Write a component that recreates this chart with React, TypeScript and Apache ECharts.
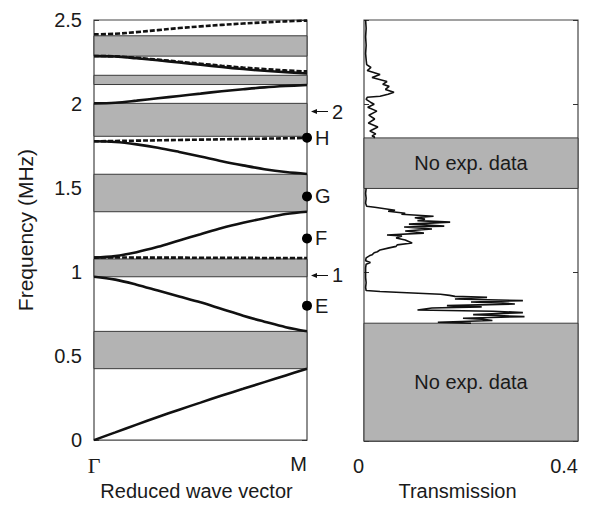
import React, { useEffect, useRef } from "react";
import * as echarts from "echarts";

// ---- Band structure (left panel) ----
const kPts = [0, 0.1, 0.2, 0.3, 0.4, 0.5, 0.6, 0.7, 0.8, 0.9, 1];
const band1 = [0, 0.046, 0.092, 0.137, 0.181, 0.223, 0.265, 0.305, 0.345, 0.385, 0.425];
const band2 = [0.972, 0.955, 0.925, 0.89, 0.855, 0.82, 0.78, 0.74, 0.705, 0.672, 0.648];
const band3 = [1.086, 1.095, 1.118, 1.15, 1.188, 1.225, 1.262, 1.293, 1.32, 1.345, 1.359];
const band4 = [1.778, 1.774, 1.76, 1.74, 1.715, 1.688, 1.66, 1.635, 1.612, 1.595, 1.584];
const band5 = [2.004, 2.008, 2.02, 2.034, 2.048, 2.062, 2.076, 2.088, 2.099, 2.107, 2.113];
const band6 = [2.285, 2.283, 2.272, 2.26, 2.247, 2.234, 2.22, 2.208, 2.198, 2.19, 2.182];
const dashA = [1.087, 1.087, 1.086, 1.086, 1.086, 1.085, 1.085, 1.085, 1.084, 1.084, 1.084];
const dashB = [1.778, 1.78, 1.782, 1.784, 1.786, 1.788, 1.79, 1.792, 1.794, 1.796, 1.798];
const dashC = [2.286, 2.284, 2.275, 2.264, 2.252, 2.24, 2.228, 2.217, 2.208, 2.2, 2.194];
const dashD = [2.415, 2.418, 2.428, 2.44, 2.452, 2.462, 2.471, 2.479, 2.486, 2.492, 2.496];
const solidBands = [band1, band2, band3, band4, band5, band6];
const dashedBands = [dashA, dashB, dashC, dashD];

// band gaps [low, high] (MHz)
const gapLow = [0.425, 0.972, 1.359, 1.808, 2.116, 2.285];
const gapHigh = [0.647, 1.078, 1.582, 2.004, 2.171, 2.406];

// marked points on M edge
const markerLabels = ["H", "G", "F", "E"];
const markerFreqs = [1.8, 1.45, 1.2, 0.8];
// arrow annotations
const arrowLabels = ["2", "1"];
const arrowFreqs = [1.955, 0.98];

// ---- Transmission (right panel) ----
const noDataLow = [0, 1.5];
const noDataHigh = [0.7, 1.8];

const transFreqUpper = [2.5, 2.45, 2.4, 2.35, 2.3, 2.265, 2.235, 2.218, 2.2, 2.176, 2.159, 2.135, 2.118, 2.106, 2.088, 2.071, 2.059, 2.047, 2.041, 2.029, 2.012, 2.0, 1.982, 1.959, 1.935, 1.912, 1.888, 1.865, 1.841, 1.824, 1.812, 1.806, 1.8];
const transValUpper = [0.003, 0.004, 0.003, 0.004, 0.003, 0.004, 0.005, 0.013, 0.006, 0.03, 0.015, 0.043, 0.035, 0.047, 0.04, 0.056, 0.045, 0.03, 0.006, 0.004, 0.012, 0.019, 0.007, 0.024, 0.009, 0.02, 0.008, 0.026, 0.011, 0.022, 0.015, 0.02, 0.018];

const transFreqLower = [1.5, 1.47, 1.441, 1.412, 1.394, 1.388, 1.371, 1.365, 1.353, 1.347, 1.335, 1.326, 1.318, 1.309, 1.3, 1.288, 1.276, 1.271, 1.259, 1.247, 1.235, 1.224, 1.218, 1.206, 1.194, 1.176, 1.165, 1.156, 1.147, 1.135, 1.124, 1.118, 1.106, 1.1, 1.088, 1.071, 1.06, 1.05, 1.029, 1.0, 0.971, 0.94, 0.912, 0.894, 0.888, 0.882, 0.872, 0.865, 0.859, 0.853, 0.844, 0.834, 0.826, 0.819, 0.814, 0.804, 0.797, 0.79, 0.778, 0.771, 0.763, 0.757, 0.751, 0.739, 0.729, 0.724, 0.716, 0.706, 0.7];
const transValLower = [0.004, 0.003, 0.004, 0.003, 0.005, 0.02, 0.058, 0.045, 0.077, 0.07, 0.13, 0.095, 0.114, 0.1, 0.161, 0.084, 0.15, 0.075, 0.127, 0.077, 0.112, 0.043, 0.071, 0.06, 0.077, 0.09, 0.062, 0.06, 0.047, 0.03, 0.025, 0.019, 0.015, 0.01, 0.004, 0.003, 0.012, 0.004, 0.003, 0.003, 0.003, 0.004, 0.003, 0.004, 0.03, 0.07, 0.143, 0.16, 0.17, 0.23, 0.17, 0.297, 0.2, 0.26, 0.282, 0.155, 0.22, 0.127, 0.1, 0.241, 0.297, 0.25, 0.204, 0.3, 0.185, 0.22, 0.24, 0.138, 0.2];

const FONT = '"Liberation Sans", Arial, Helvetica, sans-serif';
const TXT = "#1a1a1a";
const GRAY = "#b3b3b3";
const FRAME = "#444";
const FS = 20;

function zip(xs: number[], ys: number[]) {
  const n = Math.min(xs.length, ys.length);
  const out: number[][] = [];
  for (let i = 0; i < n; i++) out.push([xs[i], ys[i]]);
  return out;
}

export default function App() {
  const ref = useRef<HTMLDivElement>(null);
  useEffect(() => {
    if (!ref.current) return;
    const chart = echarts.init(ref.current, undefined, { renderer: "svg" });

    const yTick = { inside: true, length: 5, lineStyle: { color: "#333", width: 1 } };

    const series: any[] = [];
    // band gaps (gray areas)
    series.push({
      type: "line",
      xAxisIndex: 0,
      yAxisIndex: 0,
      data: [],
      z: 1,
      silent: true,
      markArea: {
        silent: true,
        itemStyle: { color: GRAY, borderColor: "#3a3a3a", borderWidth: 1 },
        data: gapLow.map((lo, i) => [{ yAxis: lo }, { yAxis: gapHigh[i] }]),
      },
    });
    solidBands.forEach((b) =>
      series.push({
        type: "line",
        xAxisIndex: 0,
        yAxisIndex: 0,
        data: zip(kPts, b),
        smooth: 0.35,
        showSymbol: false,
        z: 3,
        lineStyle: { color: "#111", width: 2.6 },
      })
    );
    dashedBands.forEach((b) =>
      series.push({
        type: "line",
        xAxisIndex: 0,
        yAxisIndex: 0,
        data: zip(kPts, b),
        smooth: 0.35,
        showSymbol: false,
        z: 4,
        lineStyle: { color: "#111", width: 2.6, type: [5, 2] },
      })
    );
    // points H G F E
    series.push({
      type: "scatter",
      xAxisIndex: 0,
      yAxisIndex: 0,
      clip: false,
      symbolSize: 10,
      z: 6,
      itemStyle: { color: "#000", opacity: 1 },
      data: markerFreqs.map((f, i) => ({ value: [1, f], name: markerLabels[i] })),
      label: { show: true, position: "right", distance: 3, formatter: "{b}", fontSize: FS, color: TXT, fontFamily: FONT },
    });
    // arrows
    series.push({
      type: "scatter",
      xAxisIndex: 0,
      yAxisIndex: 0,
      clip: false,
      symbol: "path://M0,2.5 L6,0 L6,2 L17,2 L17,3 L6,3 L6,5 Z",
      symbolSize: [17, 5],
      symbolOffset: [12.5, 0],
      z: 6,
      itemStyle: { color: "#111", opacity: 1 },
      data: arrowFreqs.map((f, i) => ({ value: [1, f], name: arrowLabels[i] })),
      label: { show: true, position: "right", distance: 4, formatter: "{b}", fontSize: FS, color: TXT, fontFamily: FONT },
    });
    // right panel no-data areas
    series.push({
      type: "line",
      xAxisIndex: 1,
      yAxisIndex: 2,
      data: [],
      z: 1,
      silent: true,
      markArea: {
        silent: true,
        itemStyle: { color: GRAY, borderColor: "#3a3a3a", borderWidth: 1 },
        label: { show: true, position: "inside", formatter: "No exp. data", fontSize: FS, color: TXT, fontFamily: FONT },
        data: noDataLow.map((lo, i) => [{ yAxis: lo }, { yAxis: noDataHigh[i] }]),
      },
    });
    series.push({
      type: "line",
      xAxisIndex: 1,
      yAxisIndex: 2,
      data: zip(transValUpper, transFreqUpper),
      showSymbol: false,
      z: 3,
      lineStyle: { color: "#111", width: 1.6 },
    });
    series.push({
      type: "line",
      xAxisIndex: 1,
      yAxisIndex: 2,
      data: zip(transValLower, transFreqLower),
      showSymbol: false,
      z: 3,
      lineStyle: { color: "#111", width: 1.6 },
    });

    chart.setOption({
      animation: false,
      backgroundColor: "#fff",
      textStyle: { fontFamily: FONT },
      grid: [
        { left: 94, top: 20, width: 213, height: 425, show: true, borderColor: FRAME, borderWidth: 1.2, backgroundColor: "transparent" },
        { left: 364, top: 20, width: 214, height: 425, show: true, borderColor: FRAME, borderWidth: 1.2, backgroundColor: "transparent" },
      ],
      xAxis: [
        {
          type: "value",
          gridIndex: 0,
          min: 0,
          max: 1,
          interval: 1,
          axisLine: { show: false },
          axisTick: { show: false },
          splitLine: { show: false },
          axisLabel: {
            margin: 14,
            fontSize: FS,
            color: TXT,
            alignMaxLabel: "right",
            formatter: (v: number) => (v === 0 ? "{g|Γ}" : "{m|M}"),
            rich: {
              g: { fontFamily: '"Liberation Serif", "Times New Roman", serif', fontSize: 22, color: TXT },
              m: { fontFamily: FONT, fontSize: FS, color: TXT },
            },
          },
          name: "Reduced wave vector",
          nameLocation: "middle",
          nameGap: 37,
          nameTextStyle: { fontSize: FS, color: TXT, fontFamily: FONT, padding: [0, 8, 0, 0] },
        },
        {
          type: "value",
          gridIndex: 1,
          min: 0,
          max: 0.4,
          interval: 0.4,
          axisLine: { show: false },
          axisTick: { show: false },
          splitLine: { show: false },
          axisLabel: {
            margin: 15,
            fontSize: FS,
            color: TXT,
            alignMinLabel: "right",
            alignMaxLabel: "right",
            formatter: (v: number) => (v === 0 ? "0" : "0.4"),
          },
          name: "Transmission",
          nameLocation: "middle",
          nameGap: 37,
          nameTextStyle: { fontSize: FS, color: TXT, fontFamily: FONT, padding: [0, 27, 0, 0] },
        },
      ],
      yAxis: [
        {
          type: "value",
          gridIndex: 0,
          position: "left",
          min: 0,
          max: 2.5,
          interval: 0.5,
          axisLine: { show: false },
          axisTick: yTick,
          splitLine: { show: false },
          axisLabel: { fontSize: FS, margin: 12, color: TXT },
          name: "Frequency (MHz)",
          nameLocation: "middle",
          nameRotate: 90,
          nameGap: 58,
          nameTextStyle: { fontSize: 21, color: TXT, fontFamily: FONT },
        },
        {
          type: "value",
          gridIndex: 0,
          position: "right",
          min: 0,
          max: 2.5,
          interval: 0.5,
          axisLine: { show: false },
          axisTick: yTick,
          splitLine: { show: false },
          axisLabel: { show: false },
        },
        {
          type: "value",
          gridIndex: 1,
          position: "left",
          min: 0,
          max: 2.5,
          interval: 1,
          axisLine: { show: false },
          axisTick: yTick,
          splitLine: { show: false },
          axisLabel: { show: false },
        },
        {
          type: "value",
          gridIndex: 1,
          position: "right",
          min: 0,
          max: 2.5,
          interval: 1,
          axisLine: { show: false },
          axisTick: yTick,
          splitLine: { show: false },
          axisLabel: { show: false },
        },
      ],
      series,
    });
    return () => chart.dispose();
  }, []);
  return <div ref={ref} style={{ width: 604, height: 506, margin: -8 }} />;
}
